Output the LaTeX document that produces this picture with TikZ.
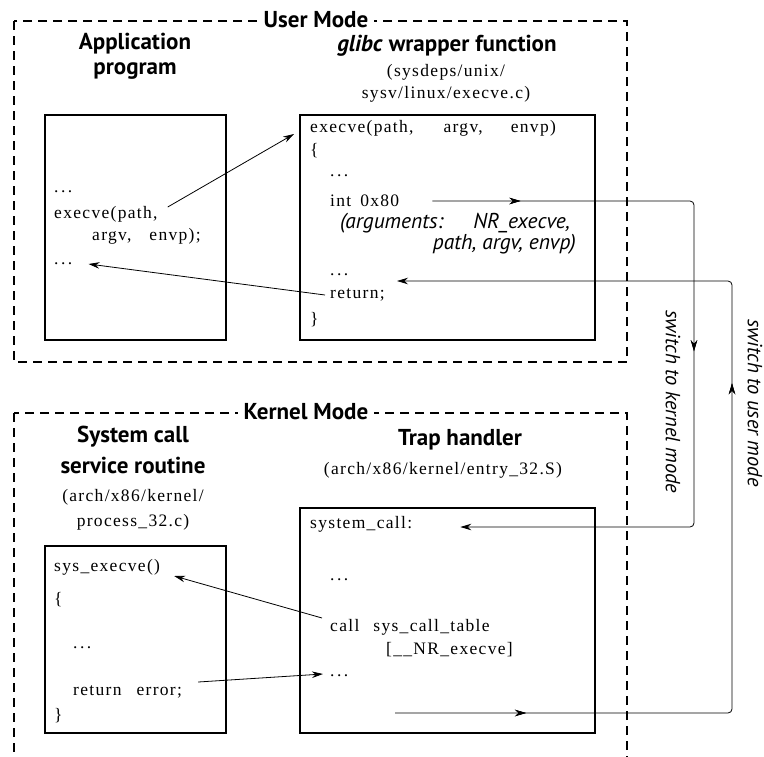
\documentclass[tikz,border=0pt]{standalone}
\usepackage{fontspec}
\usetikzlibrary{arrows.meta,decorations.markings}
\newfontfamily\codefont[LetterSpace=7.5]{Liberation Serif}
\newfontfamily\headfont{PT Sans}
\newcommand\gap[1]{\hspace*{#1pt}}
\newcommand\elided{.\gap{2.5}.\gap{2.5}.}
\begin{document}
\begin{tikzpicture}[x=1pt,y=-1pt,
  modebox/.style={draw, dash pattern=on 9pt off 6pt, line width=1.4pt},
  progbox/.style={draw, line width=1.8pt},
  code/.style={anchor=west, inner sep=0pt, font=\codefont\fontsize{17.5}{17.5}\selectfont},
  path/.style={inner sep=0pt, font=\codefont\fontsize{17.5}{17.5}\selectfont},
  heading/.style={inner sep=0pt, font=\headfont\bfseries\fontsize{23}{23}\selectfont},
  modetitle/.style={fill=white, inner sep=6pt, font=\headfont\bfseries\fontsize{23}{23}\selectfont},
  note/.style={inner sep=0pt, font=\headfont\itshape\fontsize{21.5}{21.5}\selectfont},
  sidelabel/.style={inner sep=0pt, rotate=-90, font=\headfont\itshape\fontsize{20.5}{20.5}\selectfont},
  arrowline/.style={line width=0.8pt, -{Stealth[length=11pt,width=6.5pt]}},
  flowline/.style={line width=0.8pt, rounded corners=4pt, -{Stealth[length=11pt,width=6.5pt]}},
  tipmark/.style={decoration={markings, mark=at position #1 with {\arrow{Stealth[length=11pt,width=6.5pt]}}}, postaction={decorate}}
]
\useasboundingbox (0,0) rectangle (764,756);
\clip (0,0) rectangle (764,756);

% mode regions
\draw[modebox] (14,21) rectangle (627,362);
\draw[modebox] (14,413) rectangle (627,800);
\node[modetitle] (usermode) at (316,20) {User Mode};
\node[modetitle] (kernelmode) at (306,412) {Kernel Mode};

% ---------- user mode ----------
\node[heading] (apptitle1) at (135,44) {Application};
\node[heading] (apptitle2) at (135,71) {program};
\draw[progbox] (45,115) rectangle (226,340);
\node[code] (appdots1) at (54,192) {\elided};
\node[code] (appcall) at (54,214) {execve(path,};
\node[code] (appargs) at (92,236) {argv,\gap{18}envp);};
\node[code] (appdots2) at (54,264) {\elided};

\node[heading] (glibctitle) at (447,46) {\itshape glibc\/\upshape{} wrapper function};
\node[path] (glibcpath1) at (446,72) {(sysdeps/unix/};
\node[path] (glibcpath2) at (446,94) {sysv/linux/execve.c)};
\draw[progbox] (300,115) rectangle (595,340);
\node[code] (wrapdef) at (310,128) {execve(path,\gap{30}argv,\gap{28}envp)};
\node[code] (wrapopen) at (310,151) {\{};
\node[code] (wrapdots1) at (330,176) {\elided};
\node[code] (wrapint) at (330,201) {int\gap{9}0x80};
\node[note, anchor=west] (wrapargs1) at (340,223) {(arguments:\gap{30}NR\_execve,};
\node[note, anchor=east] (wrapargs2) at (576,244) {path, argv, envp)};
\node[code] (wrapdots2) at (330,275) {\elided};
\node[code] (wrapret) at (330,295) {return;};
\node[code] (wrapclose) at (310,320) {\}};

% ---------- kernel mode ----------
\node[heading] (svctitle1) at (133,437) {System call};
\node[heading] (svctitle2) at (133,465) {service routine};
\node[path] (svcpath1) at (133,497) {(arch/x86/kernel/};
\node[path] (svcpath2) at (133,522) {process\_32.c)};
\draw[progbox] (45,546) rectangle (226,733);
\node[code] (svcdef) at (54,567) {sys\_execve()};
\node[code] (svcopen) at (54,600) {\{};
\node[code] (svcdots) at (73,648) {\elided};
\node[code] (svcret) at (73,692) {return\gap{15}error;};
\node[code] (svcclose) at (54,716) {\}};

\node[heading] (traptitle) at (460,440) {Trap handler};
\node[path] (trappath) at (443,470) {(arch/x86/kernel/entry\_32.S)};
\draw[progbox] (300,508) rectangle (595,733);
\node[code] (trapentry) at (310,524) {system\_call:};
\node[code] (trapdots1) at (330,580) {\elided};
\node[code] (trapcall) at (330,627) {call\gap{14}sys\_call\_table};
\node[code] (trapindex) at (386,650) {[\_\_NR\_execve]};
\node[code] (trapdots2) at (330,676) {\elided};

% loose ends and turning lines of the mode switches
\coordinate (trapexit) at (395,713);
\coordinate (wrapback) at (397,281);
\coordinate (kturn) at (694,0);
\coordinate (uturn) at (732,0);

% ---------- calls inside each mode ----------
\draw[arrowline] ([shift={(10,-7)}]appcall.east) -- ([shift={(-16,6)}]wrapdef.west);
\draw[arrowline] ([shift={(-5,0)}]wrapret.west) -- ([shift={(16,0)}]appdots2.east);
\draw[arrowline] ([shift={(-8,-9)}]trapcall.west) -- ([shift={(14,9)}]svcdef.east);
\draw[arrowline] ([shift={(16,-10)}]svcret.east) -- ([shift={(-7,-2)}]trapdots2.west);

% ---------- mode switches ----------
\draw[flowline, tipmark=88pt, tipmark=410pt]
  ([xshift=33pt]wrapint.east) -- (wrapint.east -| kturn)
  -- ([yshift=-3pt]trapentry.east -| kturn) -- ([shift={(48pt,-3pt)}]trapentry.east);
\draw[flowline, tipmark=131pt, tipmark=665pt]
  (trapexit) -- (trapexit -| uturn) -- (wrapback -| uturn) -- (wrapback);

\node[sidelabel] (tokernel) at (673,402) {switch to kernel mode};
\node[sidelabel] (touser) at (755,403) {switch to user mode};
\end{tikzpicture}
\end{document}
